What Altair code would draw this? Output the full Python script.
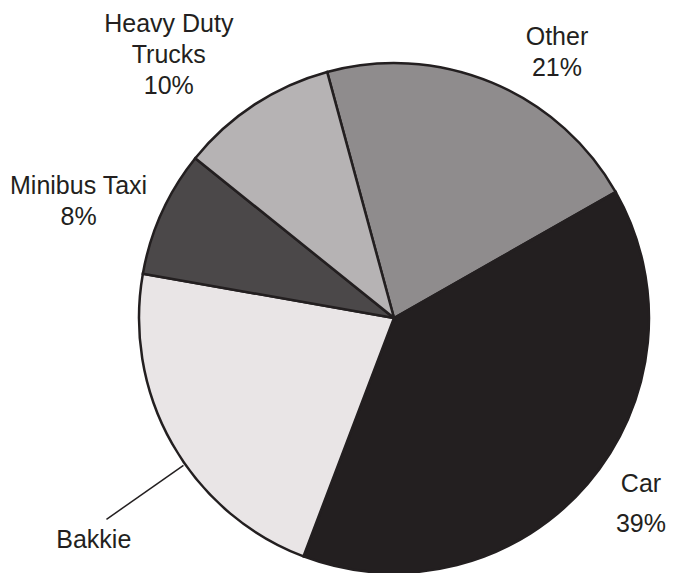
import math
import altair as alt
import pandas as pd

categories = ["Other", "Car", "Bakkie", "Minibus Taxi", "Heavy Duty Trucks"]
shares = [21, 39, 22, 8, 10]
labels = ["Other\n21%", "Car\n39%", "Bakkie", "Minibus Taxi\n8%", "Heavy Duty\nTrucks\n10%"]
colors = ["#8f8c8d", "#231f20", "#e9e5e6", "#4b4849", "#b6b3b4"]

df = pd.DataFrame({"category": categories, "share": shares, "label": labels,
                   "order": list(range(len(categories)))})

CX, CY = 386, 310        # pie centre in chart coordinates
R = 255                  # pie radius
START = math.radians(344.8)
LABEL_R = 320
FONT = "Liberation Sans"

theta_scale = alt.Scale(domain=[0, 100], range=[START, START + 2 * math.pi])
order = alt.Order("order:Q")

base = alt.Chart(df)

pie = base.mark_arc(stroke="#231f20", strokeWidth=2.5, outerRadius=R).encode(
    theta=alt.Theta("share:Q", stack=True, scale=theta_scale),
    order=order,
    color=alt.Color("category:N", scale=alt.Scale(domain=categories, range=colors), legend=None),
    x=alt.value(CX), y=alt.value(CY),
)

# per-label fine placement (styling): dx, dy, lineHeight
placement = {
    "Other": (40, 14, 31),
    "Car": (4, -42, 40),
    "Bakkie": (-22, 64, 31),
    "Minibus Taxi": (-24, 0, 31),
    "Heavy Duty Trucks": (-50, -26, 31),
}

text_base = base.transform_window(
    cum="sum(share)", sort=[alt.SortField("order")]
).transform_calculate(mid="datum.cum - datum.share / 2")

text_layers = []
for cat in categories:
    dx, dy, lh = placement[cat]
    t = text_base.mark_text(
        radius=LABEL_R, dx=dx, dy=dy, fontSize=25, font=FONT, color="#231f20",
        align="center", baseline="middle", lineBreak="\n", lineHeight=lh,
    ).encode(
        theta=alt.Theta("mid:Q", stack=None, scale=theta_scale), text="label:N",
        x=alt.value(CX), y=alt.value(CY),
    ).transform_filter(alt.datum.category == cat)
    text_layers.append(t)

# leader line for Bakkie
ang = math.radians(235)
r1, r2 = 257, 351
x1 = CX + r1 * math.sin(ang); y1 = CY - r1 * math.cos(ang)
x2 = CX + r2 * math.sin(ang); y2 = CY - r2 * math.cos(ang)
leader = alt.Chart(pd.DataFrame({"a": [0]})).mark_rule(color="#231f20", strokeWidth=1.5).encode(
    x=alt.value(x1), y=alt.value(y1), x2=alt.value(x2), y2=alt.value(y2)
)

chart = alt.layer(pie, leader, *text_layers).properties(
    width=660, height=565, padding=0, autosize=alt.AutoSizeParams(type="none")
).configure_view(stroke=None)

chart.save("out.html", embed_options={"renderer": "svg", "actions": False})
